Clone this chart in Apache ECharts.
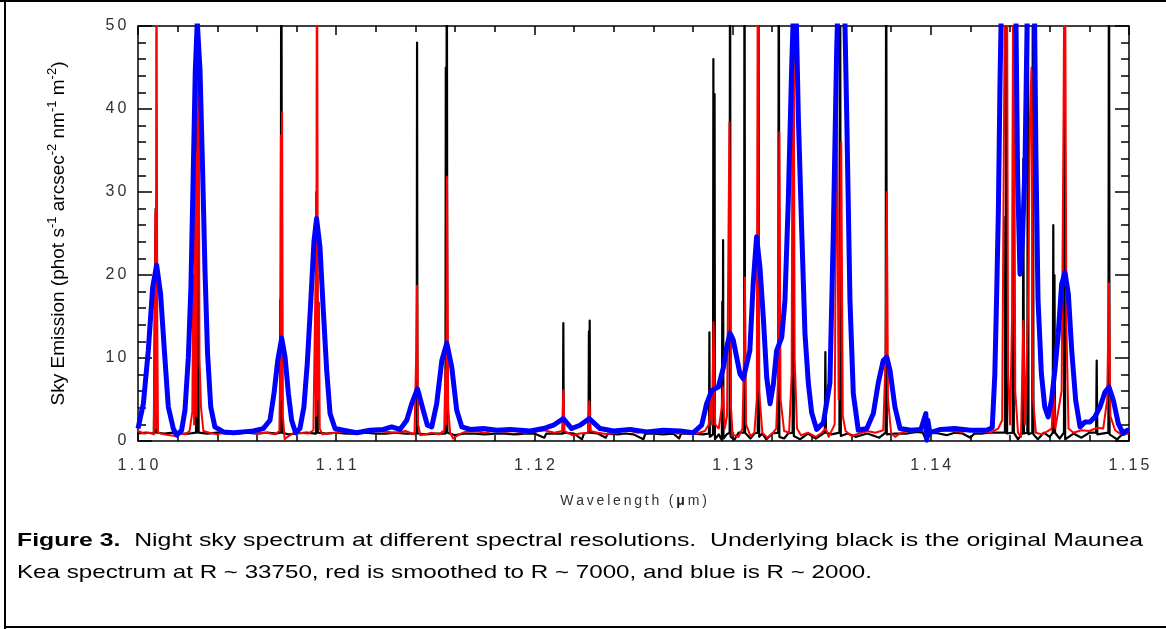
<!DOCTYPE html>
<html><head><meta charset="utf-8">
<script src="https://cdn.jsdelivr.net/npm/echarts@6/dist/echarts.min.js"></script>
<style>html,body{margin:0;padding:0;background:#fff}#c{width:1166px;height:629px}</style>
</head><body><div id="c"></div>
<script>
// ---------- data: [wavelength (µm), sky emission] ----------
const blackSpectrum = [
[1.1000,0.9],[1.1004,1.0],[1.1008,0.9],[1.10087,1.0],[1.10089,28],[1.10091,1.0],[1.10094,29],[1.10096,1.0],[1.1013,0.9],[1.1018,1.0],[1.1022,0.9],[1.1026,0.9],[1.10293,1.0],[1.10295,43],[1.10297,1.0],[1.10304,30],[1.10306,1.0],[1.1035,0.9],[1.1040,1.0],[1.1045,0.9],[1.1050,0.9],[1.1055,1.0],[1.1060,0.9],[1.1065,1.0],[1.1070,0.9],[1.10716,1.0],[1.10718,17],[1.10720,1.0],[1.10723,75],[1.10727,1.0],[1.1076,0.8],[1.1080,0.9],[1.1085,1.0],[1.10898,0.9],[1.10900,30],[1.10902,1.0],[1.10905,20],[1.10907,1.0],[1.1095,0.9],[1.1100,1.0],[1.1105,0.9],[1.1110,0.9],[1.1115,1.0],[1.1120,0.9],[1.1125,0.9],[1.1130,1.0],[1.1135,0.9],[1.11406,0.9],[1.11408,48],[1.11410,0.9],[1.1145,0.8],[1.1150,0.9],[1.11551,0.9],[1.11553,45],[1.11555,1.0],[1.11558,70],[1.11561,1.0],[1.1160,0.7],[1.1165,0.9],[1.1170,0.9],[1.1175,0.8],[1.1180,0.9],[1.1185,0.9],[1.1190,0.8],[1.1195,0.9],[1.1200,0.9],[1.1205,0.4],[1.1206,0.9],[1.1210,0.9],[1.12144,0.9],[1.12146,14.2],[1.12148,1.0],[1.1220,0.9],[1.1224,0.2],[1.1225,0.9],[1.12273,1.0],[1.12275,13.2],[1.12277,1.0],[1.12279,14.5],[1.12281,1.0],[1.1232,0.9],[1.1236,0.4],[1.1237,0.9],[1.1242,0.8],[1.1246,0.9],[1.1250,0.8],[1.1255,0.2],[1.1256,0.9],[1.1260,0.9],[1.1265,0.8],[1.1270,0.9],[1.1273,0.3],[1.1274,0.9],[1.1280,0.9],[1.1285,0.8],[1.12881,0.9],[1.12883,13.1],[1.12885,0.5],[1.12901,0.8],[1.12903,46],[1.12905,1.0],[1.12909,41.8],[1.12911,0.2],[1.1293,0.8],[1.12946,0.1],[1.12948,16.8],[1.12950,0.9],[1.12952,24.2],[1.12954,0.3],[1.1297,0.8],[1.12985,1.0],[1.12987,70],[1.12990,0.5],[1.1301,0.2],[1.1303,1.0],[1.13058,1.0],[1.13060,70],[1.13063,1.0],[1.1309,0.3],[1.1311,0.9],[1.13127,1.0],[1.13130,70],[1.13134,0.5],[1.1315,0.9],[1.1317,0.2],[1.1320,0.9],[1.13230,1.0],[1.13233,70],[1.13236,0.5],[1.1326,0.3],[1.1328,0.9],[1.13303,1.0],[1.13306,70],[1.13309,0.6],[1.1334,0.2],[1.1338,0.9],[1.1342,0.3],[1.13465,1.0],[1.13468,10.7],[1.13471,1.0],[1.1350,0.8],[1.13539,1.0],[1.13542,70],[1.13546,0.6],[1.1358,0.9],[1.1362,0.5],[1.1368,0.9],[1.1374,0.4],[1.13772,1.0],[1.13775,70],[1.13778,0.8],[1.1382,0.9],[1.1388,0.9],[1.1393,1.1],[1.13960,1.0],[1.13978,0.0],[1.1400,1.0],[1.1404,0.9],[1.1408,0.7],[1.1412,1.0],[1.1416,0.9],[1.1420,0.4],[1.1422,0.9],[1.1426,0.9],[1.1430,1.0],[1.14374,1.0],[1.14376,27],[1.14378,1.0],[1.14382,70],[1.14385,0.9],[1.14413,1.0],[1.14416,70],[1.14419,1.0],[1.1444,0.2],[1.14464,1.0],[1.14467,34],[1.14470,0.9],[1.14487,1.0],[1.14490,70],[1.14493,0.8],[1.14512,1.0],[1.14515,70],[1.14518,0.8],[1.1454,0.2],[1.1457,1.0],[1.1460,0.5],[1.14615,1.0],[1.14618,26],[1.14621,1.0],[1.14624,20],[1.14627,1.0],[1.1465,0.3],[1.14672,1.0],[1.14675,40.8],[1.14678,0.2],[1.1472,0.9],[1.1476,0.4],[1.1480,1.0],[1.14834,1.0],[1.14837,9.7],[1.14840,0.8],[1.14896,1.0],[1.14899,70],[1.14902,0.8],[1.1494,0.2],[1.1497,0.9],[1.1500,1.0]
];
const redSpectrum = [
[1.1000,1.2],[1.1003,0.9],[1.1006,1.0],[1.1008,0.8],[1.10085,1.0],[1.10088,27.6],[1.10090,1.5],[1.10093,70],[1.10097,15],[1.10101,1.0],[1.1013,0.8],[1.1016,0.7],[1.1019,0.6],[1.10215,0.9],[1.1024,0.8],[1.1026,1.2],[1.10274,3.5],[1.10279,20],[1.10283,2],[1.10289,35],[1.10295,3],[1.10304,70],[1.10310,10],[1.10318,4],[1.1033,1.2],[1.1036,1.0],[1.1040,0.8],[1.1045,1.1],[1.1050,0.9],[1.1055,1.2],[1.1060,0.9],[1.1065,1.0],[1.1069,0.8],[1.10714,1.2],[1.10718,9],[1.10721,36.8],[1.10724,5],[1.10727,39.6],[1.10731,3],[1.1074,0.2],[1.10755,0.5],[1.1078,0.9],[1.1081,1.0],[1.1086,0.9],[1.10885,1.3],[1.10896,20],[1.10899,3],[1.10903,70],[1.10908,5],[1.10913,16.7],[1.10917,1.5],[1.1093,0.8],[1.1096,0.9],[1.1100,1.0],[1.1105,1.2],[1.1110,1.0],[1.1115,1.1],[1.1120,1.3],[1.1125,1.1],[1.1130,1.0],[1.1135,1.2],[1.11395,0.8],[1.11404,10.9],[1.11408,18.7],[1.11413,2],[1.11425,0.7],[1.1145,0.8],[1.1148,1.0],[1.1152,0.8],[1.11545,1.3],[1.11551,8.5],[1.11555,2],[1.11559,31.8],[1.11565,4],[1.11575,1.0],[1.1159,0.3],[1.1162,0.8],[1.1165,1.1],[1.1170,1.2],[1.1175,1.0],[1.1180,1.3],[1.1185,1.1],[1.1190,1.2],[1.1195,1.0],[1.1200,1.1],[1.1205,1.3],[1.1210,1.0],[1.1214,1.2],[1.12146,6.1],[1.12152,1.2],[1.1219,0.7],[1.1223,0.9],[1.1227,1.0],[1.12277,4.8],[1.12284,1.2],[1.1232,1.0],[1.1237,0.8],[1.1242,1.1],[1.1247,1.3],[1.1252,1.0],[1.1257,1.2],[1.1262,1.0],[1.1267,1.3],[1.1272,0.9],[1.1278,1.0],[1.1282,0.9],[1.1286,1.2],[1.1288,2.0],[1.1289,5],[1.12896,2],[1.12904,14.3],[1.12912,2],[1.1293,1.5],[1.12945,4],[1.12951,6.5],[1.12960,1.5],[1.12972,3],[1.12984,38.4],[1.12992,4],[1.1300,0.8],[1.1303,0.5],[1.1305,1.5],[1.13057,10],[1.13062,19.7],[1.13068,2],[1.1309,0.6],[1.1311,1.0],[1.13122,5],[1.13128,70],[1.13134,6],[1.1315,1.0],[1.13175,0.4],[1.1320,0.9],[1.1322,1.5],[1.13230,8],[1.13236,37.2],[1.13242,5],[1.1326,1.2],[1.13285,1.0],[1.13298,8],[1.13306,70],[1.13313,10],[1.13325,1.5],[1.13345,0.7],[1.1338,1.0],[1.1342,0.5],[1.1345,1.0],[1.1347,1.5],[1.13485,0.5],[1.13515,2],[1.13525,44.6],[1.13535,5],[1.13548,36],[1.13556,3],[1.1357,1.2],[1.1360,0.6],[1.1364,0.9],[1.1368,1.2],[1.1372,1.0],[1.1376,1.3],[1.13772,10],[1.13778,30],[1.13784,5],[1.1380,0.9],[1.1382,0.5],[1.1385,1.0],[1.1390,1.3],[1.1395,1.2],[1.1400,1.0],[1.1405,1.3],[1.1410,1.2],[1.1415,1.1],[1.1420,1.3],[1.1425,1.2],[1.1430,1.0],[1.1434,1.5],[1.1436,2.5],[1.14375,60],[1.14383,70],[1.14390,8],[1.14400,2],[1.14410,15],[1.14418,70],[1.14426,6],[1.1444,1.0],[1.14455,0.5],[1.14467,14.5],[1.14475,2],[1.14490,15],[1.14500,38.4],[1.14508,45],[1.14516,5],[1.1453,1.0],[1.1456,0.8],[1.1459,1.2],[1.1461,1.5],[1.14620,6.4],[1.14628,1.5],[1.14660,6],[1.14670,40],[1.14676,70],[1.14684,14],[1.14695,1.5],[1.1472,1.0],[1.1476,1.3],[1.1480,1.2],[1.1484,1.6],[1.1487,1.5],[1.14890,5],[1.14899,19],[1.14906,3],[1.1493,1.3],[1.1496,0.8],[1.1500,0.9]
];
const blueSpectrum = [
[1.1000,1.5],[1.10027,4.5],[1.10052,10.9],[1.10074,18.5],[1.10094,21.2],[1.10114,17.7],[1.10133,10.9],[1.10153,4.1],[1.10178,1.5],[1.10195,0.7],[1.10220,1.3],[1.10237,3.7],[1.10254,10.1],[1.10267,18.5],[1.10279,32.6],[1.10289,44.6],[1.10299,50.5],[1.10313,44.6],[1.10326,32.6],[1.10338,20.5],[1.10351,10.5],[1.10367,4.1],[1.10388,1.7],[1.10431,1.1],[1.10481,1.0],[1.10531,1.1],[1.10582,1.2],[1.10632,1.5],[1.10666,2.5],[1.10686,5.7],[1.10705,9.7],[1.10725,12.4],[1.10742,10.1],[1.10759,5.7],[1.10775,2.5],[1.10795,1.0],[1.10817,1.5],[1.10837,4.1],[1.10854,9.3],[1.10871,16.5],[1.10888,24.1],[1.10901,26.8],[1.10918,23.4],[1.10935,15.7],[1.10952,8.5],[1.10969,3.3],[1.10994,1.5],[1.11036,1.3],[1.11103,1.0],[1.11171,1.3],[1.11238,1.4],[1.11280,1.7],[1.11322,1.4],[1.11356,2.5],[1.11381,4.5],[1.11410,6.3],[1.11437,3.9],[1.11460,1.9],[1.11482,1.7],[1.11507,4.5],[1.11533,9.7],[1.11558,11.8],[1.11583,8.9],[1.11608,3.7],[1.11634,1.7],[1.11676,1.4],[1.11743,1.5],[1.11811,1.3],[1.11878,1.4],[1.11979,1.2],[1.12045,1.5],[1.12096,1.9],[1.12146,2.7],[1.12188,1.5],[1.12230,1.9],[1.12277,2.7],[1.12331,1.5],[1.12399,1.2],[1.12483,1.4],[1.12567,1.1],[1.12651,1.3],[1.12735,1.2],[1.12802,1.0],[1.12844,1.9],[1.12869,4.5],[1.12895,6.1],[1.12928,6.5],[1.12954,8.9],[1.12970,11.3],[1.12987,13.0],[1.13003,12.2],[1.13037,8.1],[1.13054,7.5],[1.13087,10.9],[1.13104,19.0],[1.13121,24.6],[1.13138,20.9],[1.13155,14.9],[1.13172,7.7],[1.13189,4.5],[1.13206,6.9],[1.13222,10.9],[1.13248,12.5],[1.13264,16.9],[1.13281,29.0],[1.13298,45.0],[1.13315,58],[1.13332,38.8],[1.13349,25.1],[1.13365,13.0],[1.13382,7.0],[1.13399,3.4],[1.13424,1.4],[1.13458,2.2],[1.13491,7.0],[1.13508,25.0],[1.13525,47.0],[1.13542,62],[1.13559,60],[1.13576,39.0],[1.13592,17.0],[1.13609,5.7],[1.13634,1.3],[1.13677,1.5],[1.13710,3.3],[1.13735,7.0],[1.13760,9.7],[1.13778,10.1],[1.13794,8.5],[1.13819,4.1],[1.13845,1.5],[1.13900,1.3],[1.13950,1.4],[1.13975,3.3],[1.13980,0.1],[1.13985,2.5],[1.13995,1.0],[1.14050,1.4],[1.14120,1.5],[1.14200,1.3],[1.14280,1.3],[1.14310,1.6],[1.14323,8],[1.14332,17.3],[1.14341,27.8],[1.14349,43],[1.14358,55],[1.14385,80],[1.14420,65],[1.14430,50],[1.14438,32],[1.14450,20.1],[1.14462,24],[1.14475,33],[1.14487,52],[1.14500,70],[1.14511,75],[1.14522,55],[1.14530,35],[1.14541,17],[1.14558,8.1],[1.14575,4.1],[1.14592,2.9],[1.14609,4.9],[1.14626,8.5],[1.14643,12.9],[1.14660,18.9],[1.14677,20.3],[1.14694,17.7],[1.14711,10.9],[1.14731,4.9],[1.14753,1.7],[1.14778,2.3],[1.14803,2.3],[1.14828,2.9],[1.14854,4.1],[1.14879,5.9],[1.14899,6.5],[1.14921,4.9],[1.14946,2.1],[1.14971,0.9],[1.14991,1.3],[1.1500,1.2]
];
const xRange = [1.10, 1.15];
const xStep = 0.01;
const yRange = [0, 50];
const yStep = 10;
const xTitle = 'Wavelength (';
const xTitleMu = 'μ';
const xTitleEnd = 'm)';
const yTitleParts = [['Sky Emission (phot s', '-1'], [' arcsec', '-2'], [' nm', '-1'], [' m', '-2'], [')', '']];
const captionBold = 'Figure 3.';
const captionRest = '  Night sky spectrum at different spectral resolutions.  Underlying black is the original Maunea';
const captionLine2 = 'Kea spectrum at R ~ 33750, red is smoothed to R ~ 7000, and blue is R ~ 2000.';

// ---------- helpers ----------
const FONT = '"Liberation Sans", Arial, sans-serif';
function tickTokens(str) {
  return str.split('').map(c => c === '.' ? '{p|.}' : '{d|' + c + '}').join('');
}
const tickRich = {
  d: { width: 12, align: 'center', fontSize: 16, fontFamily: FONT, color: '#333' },
  p: { width: 8, align: 'center', fontSize: 16, fontFamily: FONT, color: '#333' }
};
const sp = s => s.split('').join('\u2009');
const yName = yTitleParts.map(p => '{n|' + p[0] + '}' + (p[1] ? '{s|' + p[1] + '}' : '')).join('');
const xName = '{a|' + sp(xTitle) + '\u2009}{m|' + xTitleMu + '}{a|\u2009' + sp(xTitleEnd) + '}';

const capSize = 19;
const mctx = document.createElement('canvas').getContext('2d');
mctx.font = 'bold ' + capSize + 'px ' + FONT;
const wB = mctx.measureText(captionBold).width;
mctx.font = capSize + 'px ' + FONT;
const wR = mctx.measureText(captionRest).width;
const w2 = mctx.measureText(captionLine2).width;
const capScale = (1143 - 17) / (wB + wR);
const capScale2 = (872 - 17) / w2;

const tickLine = { color: '#000', width: 1.5 };
function makeX(pos, showLabel) {
  return {
    type: 'value', min: xRange[0], max: xRange[1], interval: xStep, position: pos,
    axisLine: { show: true, onZero: false, lineStyle: tickLine },
    axisTick: { show: true, inside: true, length: 9, lineStyle: tickLine },
    minorTick: { show: true, splitNumber: 5, length: 6, lineStyle: tickLine },
    splitLine: { show: false }, minorSplitLine: { show: false },
    axisLabel: showLabel ? { show: true, margin: 17, showMinLabel: true, showMaxLabel: true,
      formatter: v => tickTokens(v.toFixed(2)), rich: tickRich } : { show: false }
  };
}
function makeY(pos, showLabel) {
  return {
    type: 'value', min: yRange[0], max: yRange[1], interval: yStep, position: pos,
    axisLine: { show: true, onZero: false, lineStyle: tickLine },
    axisTick: { show: true, inside: true, length: 14, lineStyle: tickLine },
    minorTick: { show: true, splitNumber: 5, length: 8, lineStyle: tickLine },
    splitLine: { show: false }, minorSplitLine: { show: false },
    axisLabel: showLabel ? { show: true, margin: 10, formatter: v => tickTokens(String(v)), rich: tickRich } : { show: false }
  };
}
const xMain = makeX('bottom', true);
Object.assign(xMain, {
  name: xName, nameLocation: 'middle', nameGap: 53,
  nameTextStyle: { rich: {
    a: { fontSize: 14, fontFamily: FONT, color: '#333' },
    m: { fontSize: 14, fontFamily: FONT, color: '#222', fontWeight: 'bold' } } }
});
const yMain = makeY('left', true);
Object.assign(yMain, {
  name: yName, nameLocation: 'middle', nameRotate: 90, nameGap: 70,
  nameTextStyle: { rich: {
    n: { fontSize: 19, fontFamily: FONT, color: '#000', lineHeight: 22, verticalAlign: 'bottom' },
    s: { fontSize: 13, fontFamily: FONT, color: '#000', lineHeight: 14, verticalAlign: 'top' } } }
});

function lineSeries(data, color, width, z) {
  return { type: 'line', data: data, xAxisIndex: 0, yAxisIndex: 0, showSymbol: false, symbol: 'none',
    clip: true, silent: true, animation: false, z: z,
    lineStyle: { color: color, width: width, join: 'round' } };
}

const chart = echarts.init(document.getElementById('c'));
chart.setOption({
  animation: false,
  backgroundColor: '#fff',
  grid: { left: 138, right: 37, top: 26, bottom: 188, containLabel: false },
  xAxis: [xMain, makeX('top', false)],
  yAxis: [yMain, makeY('right', false)],
  series: [
    lineSeries(blackSpectrum, '#000000', 2.2, 2),
    lineSeries(redSpectrum, '#ff0000', 2, 3),
    lineSeries(blueSpectrum, '#0000ff', 5, 4)
  ],
  graphic: [
    { type: 'line', shape: { x1: 0, y1: 1, x2: 1166, y2: 1 }, style: { stroke: '#000', lineWidth: 2 } },
    { type: 'line', shape: { x1: 5, y1: 0, x2: 5, y2: 629 }, style: { stroke: '#000', lineWidth: 2 } },
    { type: 'line', shape: { x1: 5, y1: 627, x2: 1166, y2: 627 }, style: { stroke: '#000', lineWidth: 2 } },
    { type: 'text', x: 17, y: 541, scaleX: capScale, scaleY: 1,
      style: { text: '{b|' + captionBold + '}{n|' + captionRest + '}', verticalAlign: 'middle', align: 'left',
        fill: '#000', fontSize: capSize, fontFamily: FONT,
        rich: { b: { fontWeight: 'bold', fontSize: capSize, fontFamily: FONT, fill: '#000' },
                n: { fontSize: capSize, fontFamily: FONT, fill: '#000' } } } },
    { type: 'text', x: 17, y: 573, scaleX: capScale2, scaleY: 1,
      style: { text: captionLine2, verticalAlign: 'middle', align: 'left', fill: '#000', fontSize: capSize, fontFamily: FONT } }
  ]
});
</script></body></html>
